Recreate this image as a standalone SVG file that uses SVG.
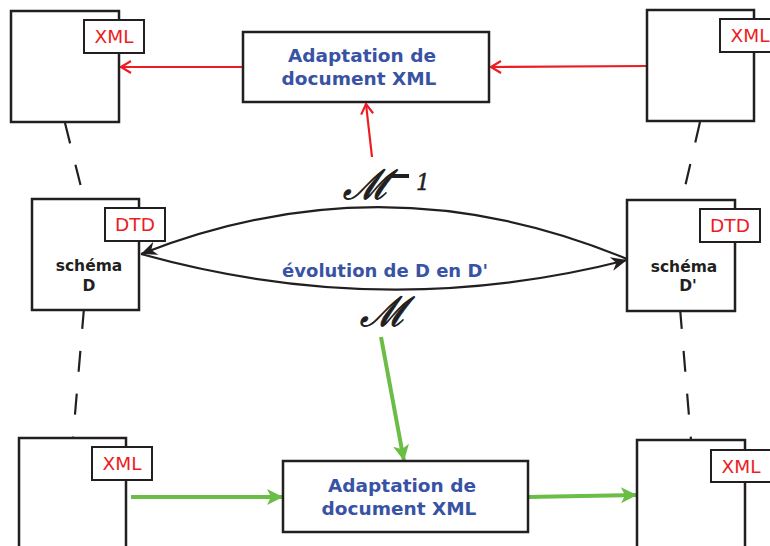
<svg xmlns="http://www.w3.org/2000/svg" width="770" height="546" viewBox="0 0 770 546">
  <defs>
    <style>
      .box { fill: #ffffff; stroke: #231f20; stroke-width: 2.5; }
      .tag { fill: #ffffff; stroke: #231f20; stroke-width: 2; }
      .tagtxt { font-family: "DejaVu Sans", sans-serif; font-size: 18.5px; fill: #ed1c24; text-anchor: middle; }
      .proc { font-family: "DejaVu Sans", sans-serif; font-weight: bold; font-size: 18.5px; fill: #3953a4; text-anchor: middle; }
      .evo { font-family: "DejaVu Sans", sans-serif; font-weight: bold; font-size: 18px; fill: #3953a4; text-anchor: middle; }
      .schema { font-family: "DejaVu Sans", sans-serif; font-weight: bold; font-size: 15.5px; fill: #231f20; text-anchor: middle; }
      .dash { fill: none; stroke: #231f20; stroke-width: 2.2; stroke-dasharray: 21 22; }
      .red { fill: none; stroke: #ed1c24; stroke-width: 2.2; }
      .green { fill: none; stroke: #6abd45; stroke-width: 4; }
      .arc { fill: none; stroke: #231f20; stroke-width: 2.2; }
      .math { font-family: "DejaVu Serif", serif; font-style: italic; fill: #231f20; stroke: #231f20; stroke-width: 1; }
    </style>
    <marker id="redHead" markerWidth="16" markerHeight="16" refX="13" refY="8" orient="auto" markerUnits="userSpaceOnUse">
      <path d="M3,2 L13,8 L3,14" fill="none" stroke="#ed1c24" stroke-width="2.2"/>
    </marker>
    <marker id="blackHead" markerWidth="20" markerHeight="16" refX="18" refY="8" orient="auto" markerUnits="userSpaceOnUse">
      <path d="M18,8 L2,1 L7,8 L2,15 Z" fill="#231f20"/>
    </marker>
    <marker id="greenHead" markerWidth="20" markerHeight="18" refX="18" refY="9" orient="auto" markerUnits="userSpaceOnUse">
      <path d="M18,9 L2,1 L6,9 L2,17 Z" fill="#6abd45"/>
    </marker>
  </defs>

  <!-- connectors -->
  <g id="connectors">
    <!-- dashed links between documents and schemas -->
    <line class="dash" x1="65" y1="123" x2="84" y2="199"/>
    <line class="dash" x1="700" y1="122" x2="682" y2="200"/>
    <line class="dash" x1="84" y1="308" x2="73" y2="438"/>
    <line class="dash" x1="680" y1="308" x2="691" y2="440"/>

    <!-- red adaptation arrows -->
    <line class="red" x1="243" y1="67" x2="121" y2="67" marker-end="url(#redHead)"/>
    <line class="red" x1="647" y1="66" x2="491" y2="67" marker-end="url(#redHead)"/>
    <line class="red" x1="372" y1="157" x2="366" y2="104" marker-end="url(#redHead)"/>

    <!-- schema evolution arcs -->
    <path class="arc" d="M627,259 Q385,158 141,254" marker-end="url(#blackHead)"/>
    <path class="arc" d="M141,254 Q385,322 627,260" marker-end="url(#blackHead)"/>

    <!-- green adaptation arrows -->
    <line class="green" x1="381" y1="337" x2="404" y2="461" marker-end="url(#greenHead)"/>
    <line class="green" x1="131" y1="497" x2="283" y2="497" marker-end="url(#greenHead)"/>
    <line class="green" x1="528" y1="497" x2="637" y2="495" marker-end="url(#greenHead)"/>
  </g>

  <!-- documents and schemas -->
  <g id="doc-top-left">
    <rect class="box" x="11" y="11" width="108" height="111"/>
    <rect class="tag" x="84" y="20" width="60" height="33"/>
    <text class="tagtxt" x="114" y="43">XML</text>
  </g>
  <g id="doc-top-right">
    <rect class="box" x="647" y="10" width="107" height="111"/>
    <rect class="tag" x="720" y="19" width="56" height="33"/>
    <text class="tagtxt" x="750" y="42">XML</text>
  </g>
  <g id="schema-d">
    <rect class="box" x="32" y="199" width="107" height="111"/>
    <rect class="tag" x="105" y="208" width="60" height="33"/>
    <text class="tagtxt" x="135" y="231">DTD</text>
    <text class="schema" x="89" y="271">schéma</text>
    <text class="schema" x="89" y="291">D</text>
  </g>
  <g id="schema-d-prime">
    <rect class="box" x="627" y="200" width="108" height="111"/>
    <rect class="tag" x="700" y="209" width="60" height="33"/>
    <text class="tagtxt" x="730" y="232">DTD</text>
    <text class="schema" x="684" y="272">schéma</text>
    <text class="schema" x="688" y="291">D'</text>
  </g>
  <g id="doc-bottom-left">
    <rect class="box" x="19" y="438" width="107" height="112"/>
    <rect class="tag" x="92" y="447" width="60" height="33"/>
    <text class="tagtxt" x="122" y="470">XML</text>
  </g>
  <g id="doc-bottom-right">
    <rect class="box" x="637" y="440" width="108" height="112"/>
    <rect class="tag" x="711" y="450" width="62" height="32"/>
    <text class="tagtxt" x="741" y="473">XML</text>
  </g>

  <!-- adaptation processes -->
  <g id="adapt-top">
    <rect class="box" x="243" y="32" width="246" height="70"/>
    <text class="proc" x="362" y="62">Adaptation de</text>
    <text class="proc" x="359" y="85">document XML</text>
  </g>
  <g id="adapt-bottom">
    <rect class="box" x="283" y="461" width="245" height="71"/>
    <text class="proc" x="402" y="492">Adaptation de</text>
    <text class="proc" x="399" y="515">document XML</text>
  </g>

  <!-- transformation labels -->
  <g id="label-inverse">
    <text class="math" x="343" y="199" font-size="41">ℳ</text>
    <rect x="390" y="174" width="19" height="4" fill="#231f20"/>
    <text class="math" x="416" y="190" font-size="22" style="stroke-width:0.5">1</text>
  </g>
  <g id="label-evolution">
    <text class="evo" x="385" y="277">évolution de D en D'</text>
  </g>
  <g id="label-m">
    <text class="math" x="360" y="326" font-size="41">ℳ</text>
  </g>
</svg>
